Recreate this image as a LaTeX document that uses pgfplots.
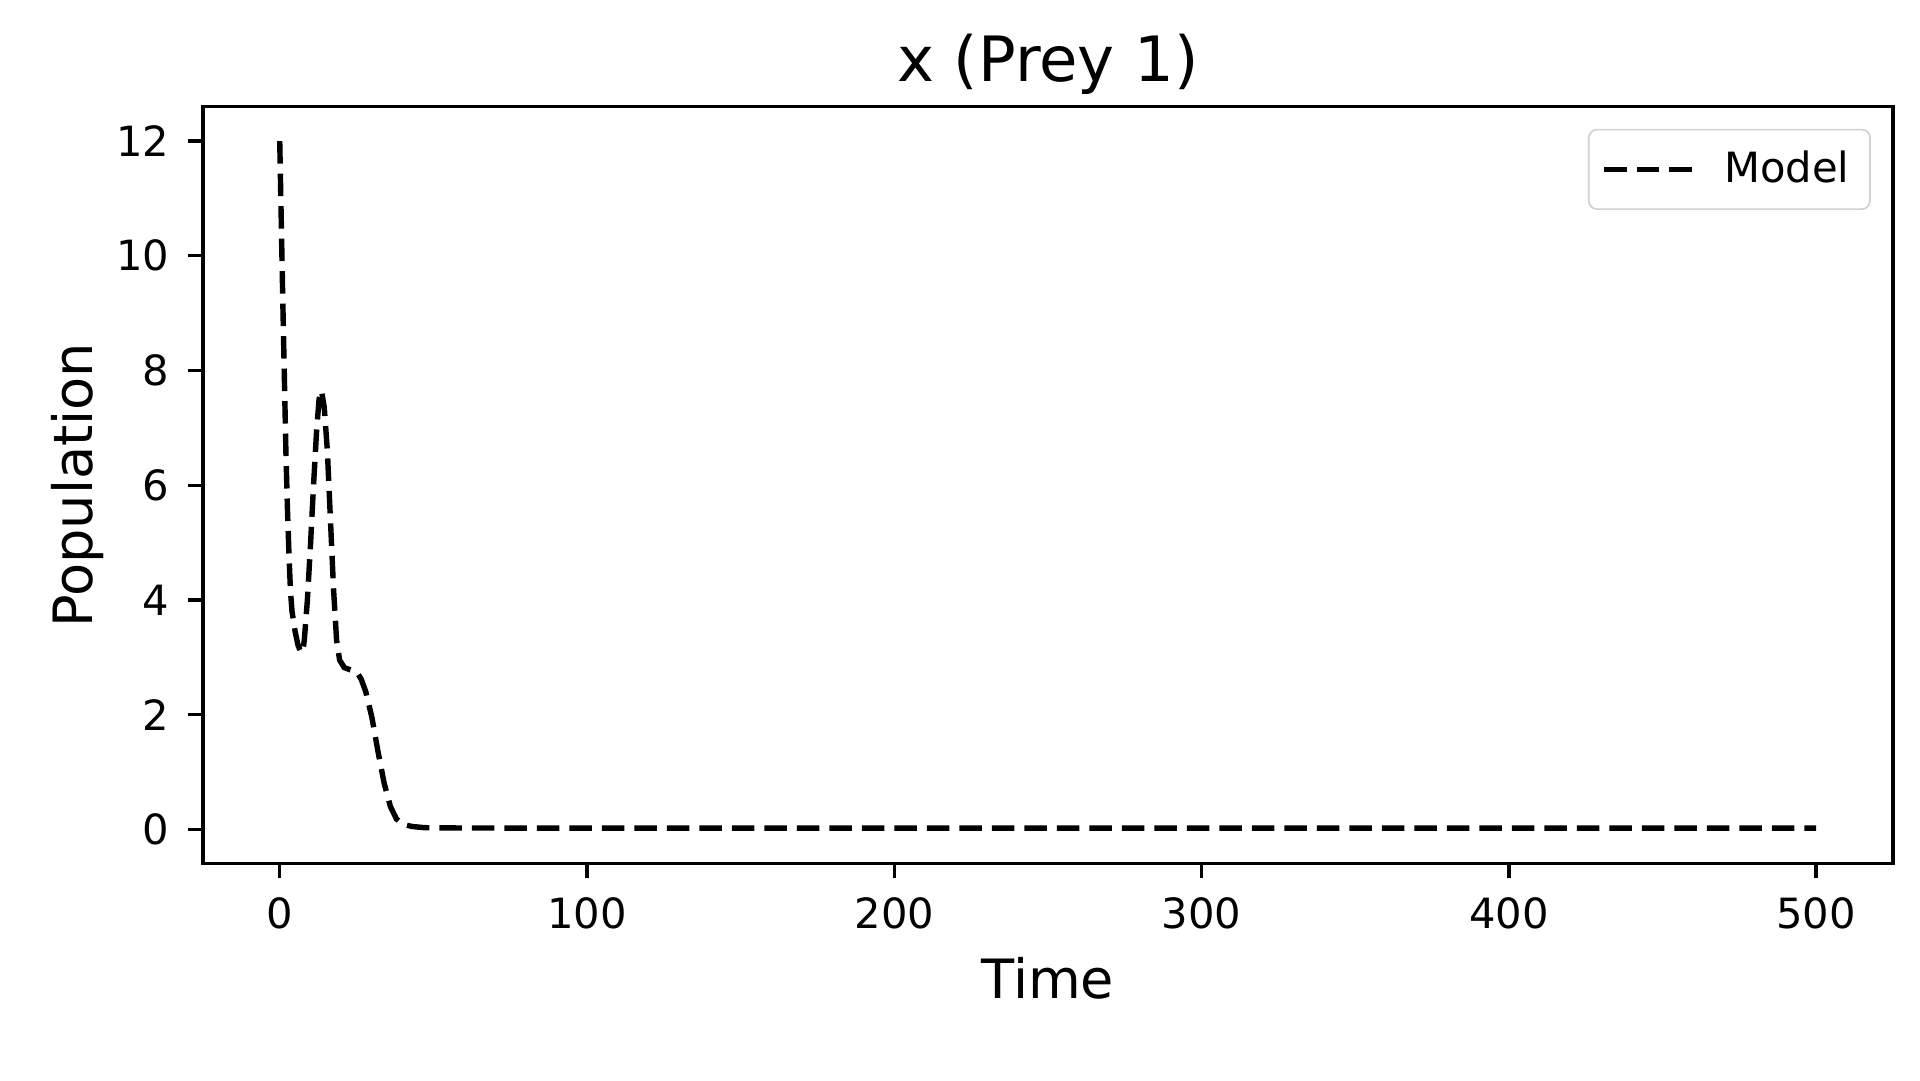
\documentclass[border=0pt]{standalone}
\usepackage{fontspec}
\setmainfont{DejaVu Sans}
\usepackage{pgfplots}
\pgfplotsset{compat=1.18}
\usetikzlibrary{calc}
\begin{document}
\begin{tikzpicture}
\begin{axis}[
  name=ax,
  scale only axis,
  width=405.6pt, height=181.7pt,
  xmin=-25, xmax=525, ymin=-0.6, ymax=12.6,
  xtick={0,100,200,300,400,500},
  ytick={0,2,4,6,8,10,12},
  tick align=outside,
  tick pos=left,
  major tick length=3.5pt,
  every tick/.style={black, line width=0.8pt},
  axis line style={line width=0.8pt},
  /pgf/number format/assume math mode=true,
  tick label style={font=\fontsize{10}{12}\selectfont},
  xticklabel style={yshift=-1pt},
  yticklabel style={xshift=-1pt},
  legend style={at={(1,1)}, anchor=north east, xshift=-5.3pt, yshift=-5.3pt,
    draw=black!18, rounded corners=2pt, font=\fontsize{10}{12}\selectfont,
    inner xsep=3pt, inner ysep=3pt, column sep=4.4pt},
  legend cell align=left,
  legend image code/.code={\draw[#1] (0cm,0cm) -- (0.765cm,0cm);},
]
\addplot[black, line width=1.3pt, dash pattern=on 5.4pt off 2.4pt] coordinates {
(0,12.0) (0.5,10.6) (1.0,9.2) (1.5,7.9) (2.0,6.6) (2.5,5.6) (3.0,4.8) (3.5,4.15)
(4.0,3.8) (5.0,3.45) (6.0,3.2) (7.0,3.08) (7.5,3.1) (8.0,3.3) (9.0,4.0) (10.0,4.95)
(11.0,6.0) (12.0,6.95) (12.8,7.5) (13.6,7.65) (14.5,7.35) (15.5,6.6) (16.5,5.4)
(17.5,4.2) (18.5,3.3) (19.5,2.95) (21,2.82) (23,2.78) (25,2.75) (26.5,2.62)
(28,2.4) (30,1.95) (32,1.35) (34,0.8) (36,0.4) (38,0.18) (40,0.09) (43,0.05)
(47,0.03) (50,0.025) (100,0.02) (200,0.02) (300,0.02) (400,0.02) (500,0.02)
};
\addlegendentry{Model}
\end{axis}
\node[anchor=base, font=\fontsize{15}{18}\selectfont] at ($(ax.north)+(0,6.1pt)$) {x (Prey 1)};
\node[anchor=base, font=\fontsize{13}{16}\selectfont] at ($(ax.south)+(0,-32.4pt)$) {Time};
\node[anchor=base, rotate=90, font=\fontsize{13}{16}\selectfont] at ($(ax.west)+(-26.6pt,0)$) {Population};
\pgfresetboundingbox
\path[use as bounding box] ($(ax.south west)+(-48.7pt,-52.1pt)$) rectangle ($(ax.north east)+(6.5pt,25.6pt)$);
\end{tikzpicture}
\end{document}
